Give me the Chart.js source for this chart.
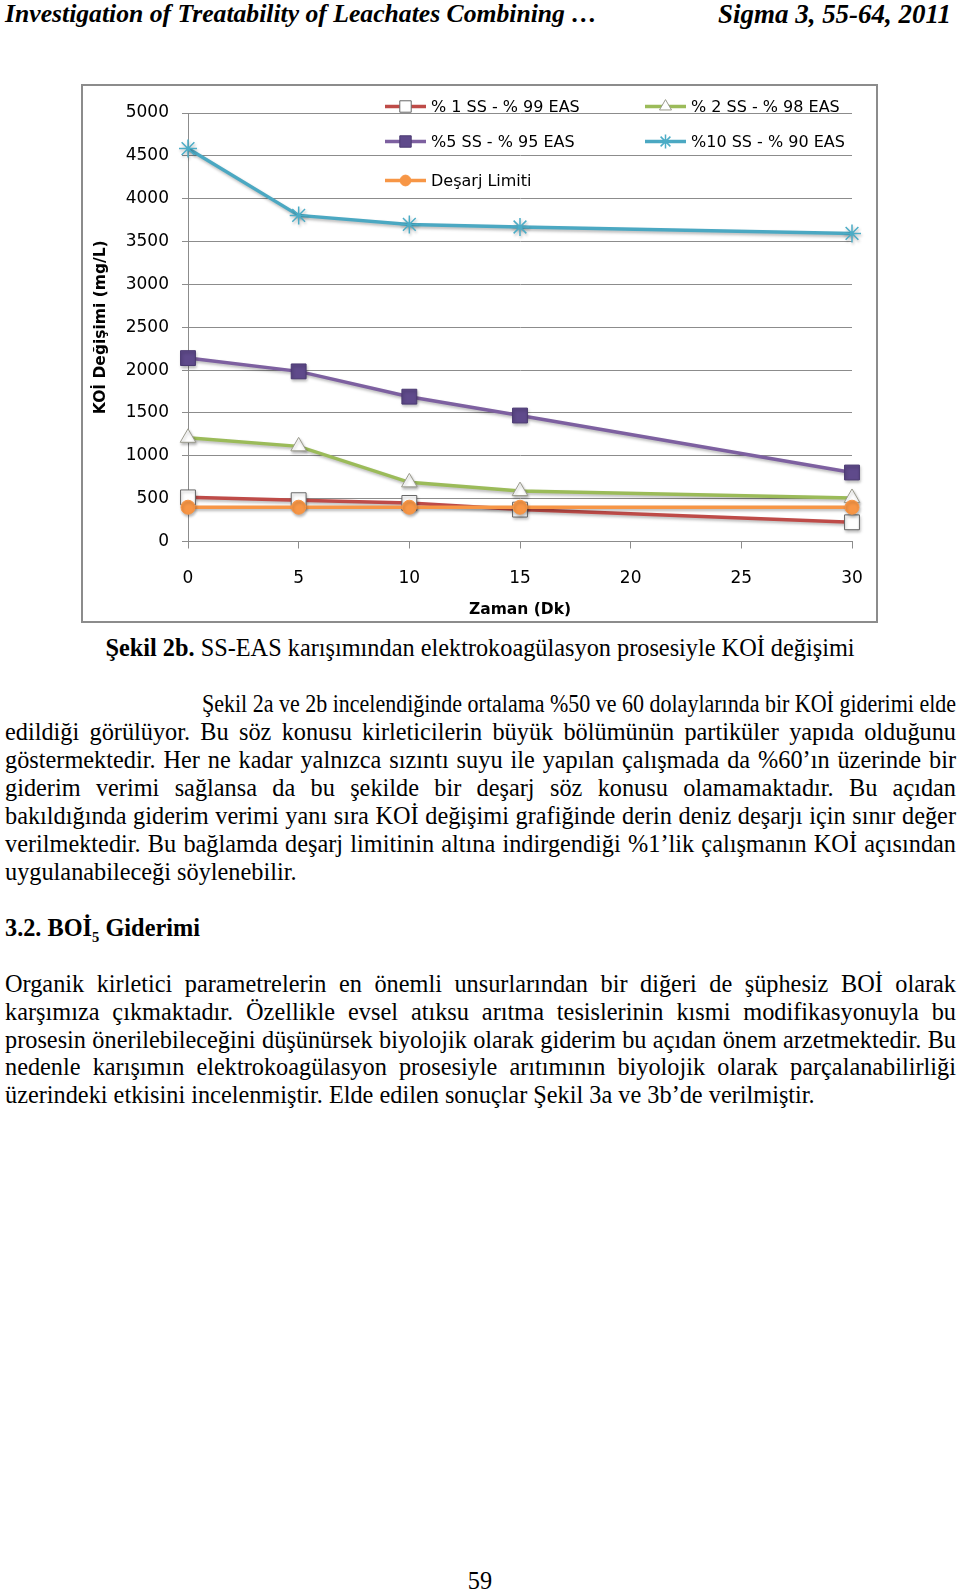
<!DOCTYPE html>
<html>
<head>
<meta charset="utf-8">
<script src="https://cdn.jsdelivr.net/npm/chart.js"></script>
<style>
  body { margin: 0; background: #fff; width: 960px; height: 1595px; position: relative; overflow: hidden;
         font-family: "Liberation Serif", "Times New Roman", serif; color: #000; }
  .ln { position: absolute; white-space: nowrap; line-height: 28px; font-size: 24.3px; }
  .j { left: 5px; width: 951px; }
  .j span { display: inline-block; transform-origin: 0 50%; }
  .hd { font-weight: bold; font-style: italic; font-size: 24px; }
  #box { position: absolute; left: 81px; top: 84px; width: 797px; height: 539px;
         border: 2px solid #8c8c8c; box-sizing: border-box; }
  #box canvas { display: block; }
</style>
</head>
<body>

<div class="ln hd" id="hl" style="left:5px;top:0px">Investigation of Treatability of Leachates Combining …</div>
<div class="ln hd" id="hr" style="right:9px;top:0px">Sigma 3, 55-64, 2011</div>

<div id="box"><canvas id="koiChart" width="793" height="535"></canvas></div>

<div class="ln" style="left:0;width:960px;text-align:center;top:634px"><b>Şekil 2b.</b> SS-EAS karışımından elektrokoagülasyon prosesiyle KOİ değişimi</div>

<div class="ln j" style="left:202px;width:754px;top:690px"><span>Şekil 2a ve 2b incelendiğinde ortalama %50 ve 60 dolaylarında bir KOİ giderimi elde</span></div>
<div class="ln j" style="top:718px"><span>edildiği görülüyor. Bu söz konusu kirleticilerin büyük bölümünün partiküler yapıda olduğunu</span></div>
<div class="ln j" style="top:746px"><span>göstermektedir. Her ne kadar yalnızca sızıntı suyu ile yapılan çalışmada da %60’ın üzerinde bir</span></div>
<div class="ln j" style="top:773.5px"><span>giderim verimi sağlansa da bu şekilde bir deşarj söz konusu olamamaktadır. Bu açıdan</span></div>
<div class="ln j" style="top:801.5px"><span>bakıldığında giderim verimi yanı sıra KOİ değişimi grafiğinde derin deniz deşarjı için sınır değer</span></div>
<div class="ln j" style="top:829.5px"><span>verilmektedir. Bu bağlamda deşarj limitinin altına indirgendiği %1’lik çalışmanın KOİ açısından</span></div>
<div class="ln" style="left:5px;top:857.5px">uygulanabileceği söylenebilir.</div>

<div class="ln" style="left:5px;top:913.5px;font-weight:bold">3.2. BOİ<sub style="font-size:60%">5</sub> Giderimi</div>

<div class="ln j" style="top:969.5px"><span>Organik kirletici parametrelerin en önemli unsurlarından bir diğeri de şüphesiz BOİ olarak</span></div>
<div class="ln j" style="top:997.5px"><span>karşımıza çıkmaktadır. Özellikle evsel atıksu arıtma tesislerinin kısmi modifikasyonuyla bu</span></div>
<div class="ln j" style="top:1025.5px"><span>prosesin önerilebileceğini düşünürsek biyolojik olarak giderim bu açıdan önem arzetmektedir. Bu</span></div>
<div class="ln j" style="top:1053px"><span>nedenle karışımın elektrokoagülasyon prosesiyle arıtımının biyolojik olarak parçalanabilirliği</span></div>
<div class="ln" style="left:5px;top:1081px">üzerindeki etkisini incelenmiştir. Elde edilen sonuçlar Şekil 3a ve 3b’de verilmiştir.</div>

<div class="ln" style="left:0;width:960px;text-align:center;top:1567px">59</div>

<script>
// Zaman (Dk)
const times = [0, 5, 10, 15, 30];
// KOİ (mg/L) per mixture
const ss1 = [515, 482, 450, 372, 224];
const ss2 = [1210, 1110, 690, 588, 508];
const ss5 = [2140, 1985, 1690, 1470, 805];
const ss10 = [4585, 3805, 3700, 3670, 3595];
const limit = [400, 400, 400, 400, 400];
const labels = ["% 1 SS - % 99 EAS", "% 2 SS - % 98 EAS", "%5 SS - % 95 EAS", "%10 SS - % 90 EAS", "Deşarj Limiti"];

// --- squeeze or justify each body line so it fills its column like the scan
(function fitText() {
  document.querySelectorAll('.j').forEach(r => {
    const sp = r.querySelector('span');
    const w = sp.getBoundingClientRect().width;
    const target = r.clientWidth;
    if (w > target) {
      sp.style.transform = 'scaleX(' + (target / w).toFixed(4) + ')';
    } else {
      sp.style.display = 'inline';
      r.style.whiteSpace = 'normal';
      r.style.textAlign = 'justify';
      r.style.textAlignLast = 'justify';
    }
  });
  const fitHd = (id, width) => {
    const el = document.getElementById(id);
    el.style.fontSize = (24 * width / el.getBoundingClientRect().width).toFixed(2) + 'px';
  };
  fitHd('hl', 592);
  fitHd('hr', 233);
})();

function pt(xs, ys) { return xs.map((x, i) => ({x: x, y: ys[i]})); }

function drawMarker(ctx, style, x, y, r, fill, stroke, bw) {
  ctx.beginPath();
  if (style === 'rect') {
    const s = Math.SQRT1_2 * r;
    ctx.rect(x - s, y - s, 2 * s, 2 * s);
  } else if (style === 'triangle') {
    ctx.moveTo(x, y - r);
    ctx.lineTo(x + 0.866 * r, y + 0.5 * r);
    ctx.lineTo(x - 0.866 * r, y + 0.5 * r);
    ctx.closePath();
  } else if (style === 'circle') {
    ctx.arc(x, y, r, 0, Math.PI * 2);
  } else if (style === 'star') {
    for (let a = 0; a < 4; a++) {
      const t = a * Math.PI / 4;
      ctx.moveTo(x - Math.cos(t) * r, y - Math.sin(t) * r);
      ctx.lineTo(x + Math.cos(t) * r, y + Math.sin(t) * r);
    }
  }
  if (style !== 'star') { ctx.fillStyle = fill; ctx.fill(); }
  ctx.lineWidth = bw; ctx.strokeStyle = stroke; ctx.stroke();
}

// Excel style legend, two columns inside the plot
const legendPlugin = {
  id: 'excelLegend',
  afterDraw(chart) {
    const ctx = chart.ctx;
    const cols = [302, 562], rowsY = [20.5, 55.5, 94.5];
    chart.data.datasets.forEach((ds, i) => {
      const x = cols[i % 2], y = rowsY[Math.floor(i / 2)];
      ctx.save();
      ctx.strokeStyle = ds.borderColor;
      ctx.lineWidth = 3.5;
      ctx.beginPath(); ctx.moveTo(x, y); ctx.lineTo(x + 41, y); ctx.stroke();
      drawMarker(ctx, ds.pointStyle, x + 20.5, y, ds.pointRadius * 0.77,
                 ds.pointBackgroundColor, ds.pointBorderColor, ds.pointBorderWidth);
      ctx.fillStyle = '#000';
      ctx.font = '16px "DejaVu Sans"';
      ctx.textBaseline = 'middle';
      ctx.fillText(ds.label, x + 46, y + 1);
      ctx.restore();
    });
  }
};

// soft drop shadow on the series like the original
const shadowPlugin = {
  id: 'shadow',
  beforeDatasetsDraw(chart) {
    const ctx = chart.ctx;
    ctx.save();
    ctx.shadowColor = 'rgba(0,0,0,0.28)';
    ctx.shadowBlur = 3;
    ctx.shadowOffsetX = 1;
    ctx.shadowOffsetY = 2;
  },
  afterDatasetsDraw(chart) { chart.ctx.restore(); }
};

const grey = '#8c8c8c';
const ctx = document.getElementById('koiChart');

new Chart(ctx, {
  type: 'line',
  data: {
    datasets: [
      { label: labels[0], data: pt(times, ss1), order: 5, borderColor: '#BE4B48', borderWidth: 3.5,
        pointStyle: 'rect', pointRadius: 10.5, pointBackgroundColor: '#ffffff', pointBorderColor: '#666666', pointBorderWidth: 1 },
      { label: labels[1], data: pt(times, ss2), order: 4, borderColor: '#9BBB59', borderWidth: 3.5,
        pointStyle: 'triangle', pointRadius: 9, pointBackgroundColor: '#ffffff', pointBorderColor: '#9a9a8c', pointBorderWidth: 1 },
      { label: labels[2], data: pt(times, ss5), order: 3, borderColor: '#7D60A0', borderWidth: 3.5,
        pointStyle: 'rect', pointRadius: 10.5, pointBackgroundColor: '#5F4A8B', pointBorderColor: '#4b3a72', pointBorderWidth: 1 },
      { label: labels[3], data: pt(times, ss10), order: 2, borderColor: '#4BA8C2', borderWidth: 3.5,
        pointStyle: 'star', pointRadius: 9, pointBackgroundColor: '#4BACC6', pointBorderColor: '#4BACC6', pointBorderWidth: 1.5 },
      { label: labels[4], data: pt(times, limit), order: 1, borderColor: '#F79646', borderWidth: 3.5,
        pointStyle: 'circle', pointRadius: 7, pointBackgroundColor: '#F79646', pointBorderColor: '#F79646', pointBorderWidth: 1 }
    ]
  },
  options: {
    responsive: false,
    animation: false,
    tension: 0,
    clip: false,
    layout: { padding: { left: 0, right: 24, top: 27, bottom: 0 } },
    plugins: { legend: { display: false }, tooltip: { enabled: false } },
    scales: {
      x: {
        type: 'linear', min: 0, max: 30,
        afterFit: (s) => { s.height = 79.5; s.paddingLeft = 0; s.paddingRight = 0; },
        ticks: { stepSize: 5, color: '#000', padding: 20, font: { family: 'DejaVu Sans', size: 17 },
                 callback: (v) => String(v) },
        grid: { drawOnChartArea: false, drawTicks: true, tickLength: 7, color: grey, lineWidth: 1 },
        border: { color: grey, width: 1 },
        title: { display: true, text: 'Zaman (Dk)', color: '#000', padding: { top: 0, bottom: 2 },
                 font: { family: 'DejaVu Sans', size: 15.5, weight: 'bold' } }
      },
      y: {
        min: 0, max: 5000,
        afterFit: (s) => { s.width = 105; },
        ticks: { stepSize: 500, color: '#000', padding: 13, font: { family: 'DejaVu Sans', size: 17 },
                 callback: (v) => String(v) },
        grid: { color: grey, lineWidth: 1, tickLength: 6 },
        border: { color: grey, width: 1 },
        title: { display: true, text: 'KOİ Değişimi (mg/L)', color: '#000', padding: { top: 9, bottom: 0 },
                 font: { family: 'DejaVu Sans', size: 15.5, weight: 'bold' } }
      }
    }
  },
  plugins: [shadowPlugin, legendPlugin]
});
</script>
</body>
</html>
